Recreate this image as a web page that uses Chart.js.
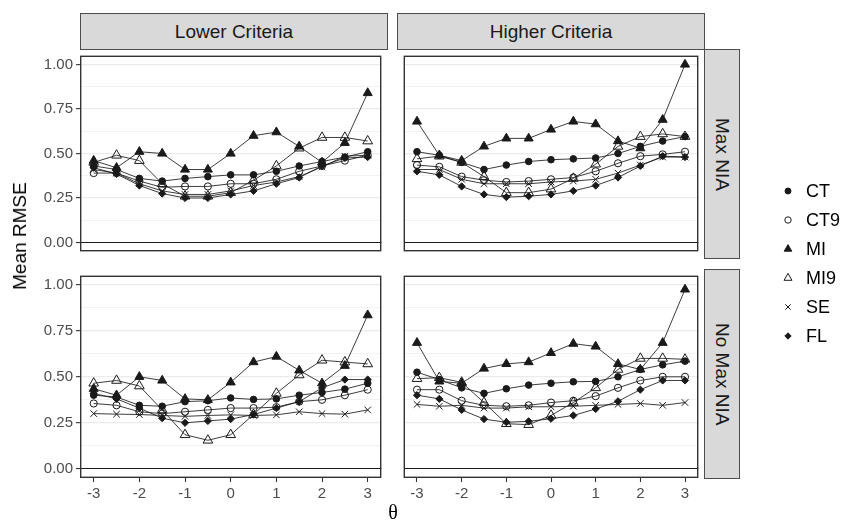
<!DOCTYPE html>
<html>
<head>
<meta charset="utf-8">
<script src="https://cdn.jsdelivr.net/npm/chart.js@4.4.1/dist/chart.umd.min.js"></script>
<style>
  html, body { margin:0; padding:0; background:#fff; }
  body { width:846px; height:524px; position:relative; overflow:hidden; font-family:"Liberation Sans", Arial, sans-serif; }
  canvas { position:absolute; }
  .strip { position:absolute; background:#D9D9D9; border:1px solid #4D4D4D; box-sizing:border-box; color:#1A1A1A; font-size:19px; display:flex; align-items:center; justify-content:center; }
  .vstrip { writing-mode:vertical-rl; }
  .ytitle { position:absolute; left:20px; top:236px; transform:translate(-50%,-50%) rotate(-90deg); font-size:19px; color:#000; white-space:nowrap; }
  .xtitle { position:absolute; left:393px; top:512px; transform:translate(-50%,-50%); font-size:20px; color:#000; font-family:"Liberation Serif", serif; }
  .leg { position:absolute; left:806px; font-size:18px; color:#000; transform:translateY(-50%); white-space:nowrap; }
</style>
</head>
<body>
<div class="strip" id="stripC0" style="left:80px;top:13px;width:308px;height:37px;"></div>
<div class="strip" id="stripC1" style="left:397px;top:13px;width:308px;height:37px;"></div>
<div class="strip vstrip" id="stripR0" style="left:704px;top:49px;width:36px;height:210px;"></div>
<div class="strip vstrip" id="stripR1" style="left:704px;top:269px;width:36px;height:210px;"></div>
<canvas id="pTL" width="388" height="209" style="left:0;top:49px;"></canvas>
<canvas id="pTR" width="308" height="209" style="left:397px;top:49px;"></canvas>
<canvas id="pBL" width="388" height="255" style="left:0;top:269px;"></canvas>
<canvas id="pBR" width="308" height="255" style="left:397px;top:269px;"></canvas>
<canvas id="legendKeys" width="40" height="200" style="left:768px;top:170px;"></canvas>
<div class="ytitle">Mean RMSE</div>
<div class="xtitle">θ</div>
<script>
// ---------- data ----------
const theta = [-3, -2.5, -2, -1.5, -1, -0.5, 0, 0.5, 1, 1.5, 2, 2.5, 3];
const xTicks = [-3, -2, -1, 0, 1, 2, 3];
const yTicks = [0, 0.125, 0.25, 0.375, 0.5, 0.625, 0.75, 0.875, 1];
const colFacets = ['Lower Criteria', 'Higher Criteria'];
const rowFacets = ['Max NIA', 'No Max NIA'];
const seriesNames = ['CT', 'CT9', 'MI', 'MI9', 'SE', 'FL'];

// Lower Criteria / Max NIA
const lowMaxCT  = [0.43, 0.41, 0.36, 0.345, 0.36, 0.37, 0.38, 0.38, 0.40, 0.43, 0.455, 0.48, 0.51];
const lowMaxCT9 = [0.39, 0.39, 0.345, 0.31, 0.315, 0.315, 0.33, 0.33, 0.355, 0.40, 0.43, 0.46, 0.49];
const lowMaxMI  = [0.46, 0.42, 0.51, 0.50, 0.41, 0.41, 0.50, 0.60, 0.62, 0.54, 0.45, 0.56, 0.84];
const lowMaxMI9 = [0.45, 0.49, 0.46, 0.33, 0.26, 0.26, 0.28, 0.35, 0.43, 0.53, 0.59, 0.59, 0.57];
const lowMaxSE  = [0.41, 0.39, 0.33, 0.29, 0.27, 0.27, 0.29, 0.32, 0.34, 0.37, 0.425, 0.485, 0.49];
const lowMaxFL  = [0.42, 0.385, 0.32, 0.275, 0.25, 0.25, 0.27, 0.29, 0.33, 0.365, 0.43, 0.475, 0.48];

// Higher Criteria / Max NIA
const highMaxCT  = [0.51, 0.49, 0.45, 0.41, 0.435, 0.455, 0.465, 0.47, 0.475, 0.50, 0.54, 0.57, 0.595];
const highMaxCT9 = [0.435, 0.425, 0.37, 0.35, 0.34, 0.345, 0.355, 0.365, 0.40, 0.445, 0.485, 0.495, 0.51];
const highMaxMI  = [0.68, 0.49, 0.46, 0.54, 0.585, 0.585, 0.635, 0.68, 0.665, 0.57, 0.53, 0.69, 1.00];
const highMaxMI9 = [0.47, 0.485, 0.45, 0.37, 0.28, 0.28, 0.30, 0.36, 0.44, 0.54, 0.595, 0.61, 0.595];
const highMaxSE  = [0.41, 0.41, 0.355, 0.33, 0.33, 0.33, 0.34, 0.345, 0.355, 0.39, 0.435, 0.48, 0.48];
const highMaxFL  = [0.40, 0.38, 0.315, 0.27, 0.255, 0.26, 0.27, 0.29, 0.32, 0.365, 0.43, 0.485, 0.48];

// Lower Criteria / No Max NIA
const lowNoCT  = [0.40, 0.39, 0.345, 0.34, 0.365, 0.37, 0.385, 0.377, 0.38, 0.40, 0.415, 0.433, 0.465];
const lowNoCT9 = [0.355, 0.345, 0.31, 0.30, 0.31, 0.32, 0.33, 0.33, 0.335, 0.365, 0.375, 0.40, 0.43];
const lowNoMI  = [0.435, 0.40, 0.50, 0.48, 0.38, 0.375, 0.47, 0.58, 0.61, 0.535, 0.465, 0.56, 0.835];
const lowNoMI9 = [0.465, 0.48, 0.45, 0.32, 0.185, 0.155, 0.185, 0.295, 0.41, 0.51, 0.59, 0.58, 0.57];
const lowNoSE  = [0.30, 0.297, 0.295, 0.29, 0.285, 0.29, 0.293, 0.29, 0.293, 0.31, 0.30, 0.297, 0.32];
const lowNoFL  = [0.41, 0.38, 0.33, 0.275, 0.25, 0.26, 0.27, 0.295, 0.33, 0.365, 0.44, 0.485, 0.485];

// Higher Criteria / No Max NIA
const highNoCT  = [0.525, 0.485, 0.44, 0.41, 0.435, 0.455, 0.465, 0.473, 0.475, 0.50, 0.54, 0.565, 0.585];
const highNoCT9 = [0.43, 0.43, 0.37, 0.345, 0.34, 0.345, 0.36, 0.37, 0.395, 0.44, 0.48, 0.50, 0.50];
const highNoMI  = [0.685, 0.475, 0.465, 0.545, 0.57, 0.58, 0.63, 0.68, 0.665, 0.57, 0.54, 0.685, 0.975];
const highNoMI9 = [0.49, 0.495, 0.47, 0.36, 0.245, 0.24, 0.29, 0.36, 0.44, 0.54, 0.60, 0.60, 0.595];
const highNoSE  = [0.35, 0.34, 0.345, 0.33, 0.33, 0.337, 0.337, 0.34, 0.345, 0.35, 0.355, 0.345, 0.36];
const highNoFL  = [0.40, 0.38, 0.32, 0.27, 0.253, 0.258, 0.272, 0.29, 0.325, 0.367, 0.43, 0.48, 0.48];

// ---------- styles ----------
const INK = '#1A1A1A';
const markerStyles = {
  CT:  { pointStyle: 'circle',   radius: 3.3, fill: INK, bw: 1 },
  CT9: { pointStyle: 'circle',   radius: 3.6, fill: 'rgba(0,0,0,0)', bw: 1 },
  MI:  { pointStyle: 'triangle', radius: 5.2, fill: INK, bw: 1 },
  MI9: { pointStyle: 'triangle', radius: 5.6, fill: 'rgba(0,0,0,0)', bw: 1 },
  SE:  { pointStyle: 'crossRot', radius: 4.6, fill: 'rgba(0,0,0,0)', bw: 1 },
  FL:  { pointStyle: 'rectRot',  radius: 3.6, fill: INK, bw: 1 }
};

document.getElementById('stripC0').textContent = colFacets[0];
document.getElementById('stripC1').textContent = colFacets[1];
document.getElementById('stripR0').textContent = rowFacets[0];
document.getElementById('stripR1').textContent = rowFacets[1];

function buildDatasets(arrs) {
  return seriesNames.map((name, i) => {
    const m = markerStyles[name];
    return {
      label: name,
      data: theta.map((t, j) => ({ x: t, y: arrs[i][j] })),
      borderColor: INK,
      borderWidth: 0.85,
      backgroundColor: m.fill,
      pointStyle: m.pointStyle,
      pointRadius: m.radius,
      pointBackgroundColor: m.fill,
      pointBorderColor: INK,
      pointBorderWidth: m.bw,
      tension: 0,
      fill: false
    };
  });
}

const frame = {
  id: 'frame',
  afterDraw(chart) {
    const a = chart.chartArea, c = chart.ctx;
    c.save();
    c.strokeStyle = '#333333';
    c.lineWidth = 1.4;
    c.strokeRect(a.left + 0.7, a.top + 0.7, a.right - a.left - 1.4, a.bottom - a.top - 1.4);
    c.restore();
  }
};

const PANEL_H = 209;

function makePanel(id, arrs, showY, showX) {
  const canvas = document.getElementById(id);
  const isMajor = v => Math.abs(v * 4 - Math.round(v * 4)) < 1e-6;
  return new Chart(canvas, {
    type: 'line',
    data: { datasets: buildDatasets(arrs) },
    plugins: [frame],
    options: {
      responsive: false,
      animation: false,
      devicePixelRatio: 1,
      layout: { padding: 0 },
      plugins: { legend: { display: false }, tooltip: { enabled: false } },
      elements: { line: { tension: 0 } },
      scales: {
        x: {
          type: 'linear', position: 'bottom', min: -3.3, max: 3.3,
          display: showX,
          afterBuildTicks: s => { s.ticks = xTicks.map(v => ({ value: v })); },
          afterFit: s => { s.height = canvas.height - PANEL_H; s.paddingLeft = 0; s.paddingRight = 0; },
          grid: { drawOnChartArea: false, drawTicks: true, tickLength: 4, tickColor: '#333333', tickWidth: 1.1 },
          border: { display: false },
          ticks: { padding: 3, color: '#4D4D4D', font: { family: 'Liberation Sans', size: 15 }, maxRotation: 0,
                   callback: v => String(v) }
        },
        y: {
          type: 'linear', position: 'left', min: -0.05, max: 1.05,
          afterBuildTicks: s => { s.ticks = yTicks.map(v => ({ value: v })); },
          afterFit: s => { s.width = showY ? 80 : 0; s.paddingTop = 0; s.paddingBottom = 0; },
          grid: {
            drawOnChartArea: true,
            drawTicks: showY,
            tickLength: 4,
            color: c => (c.tick && Math.abs(c.tick.value) < 1e-9) ? '#1A1A1A' : (c.tick && isMajor(c.tick.value) ? '#EBEBEB' : '#F2F2F2'),
            lineWidth: c => (c.tick && Math.abs(c.tick.value) < 1e-9) ? 1.1 : (c.tick && isMajor(c.tick.value) ? 1.3 : 1),
            tickColor: c => (c.tick && isMajor(c.tick.value)) ? '#333333' : 'rgba(0,0,0,0)',
            tickWidth: 1.1
          },
          border: { display: false },
          ticks: {
            display: showY, padding: 3, color: '#4D4D4D',
            font: { family: 'Liberation Sans', size: 15 },
            callback: v => isMajor(v) ? v.toFixed(2) : ''
          }
        }
      }
    }
  });
}

makePanel('pTL', [lowMaxCT, lowMaxCT9, lowMaxMI, lowMaxMI9, lowMaxSE, lowMaxFL], true, false);
makePanel('pTR', [highMaxCT, highMaxCT9, highMaxMI, highMaxMI9, highMaxSE, highMaxFL], false, false);
makePanel('pBL', [lowNoCT, lowNoCT9, lowNoMI, lowNoMI9, lowNoSE, lowNoFL], true, true);
makePanel('pBR', [highNoCT, highNoCT9, highNoMI, highNoMI9, highNoSE, highNoFL], false, true);

// ---------- legend ----------
const legendY = [191, 220, 249, 278, 307, 336];
const lk = document.getElementById('legendKeys');
const lctx = lk.getContext('2d');
const legendScale = { CT: 3, CT9: 3.2, MI: 4.4, MI9: 4.6, SE: 3.8, FL: 3.2 };
seriesNames.forEach((name, i) => {
  const m = markerStyles[name];
  lctx.save();
  lctx.fillStyle = m.fill;
  lctx.strokeStyle = INK;
  lctx.lineWidth = 1;
  Chart.helpers.drawPoint(lctx, { pointStyle: m.pointStyle, radius: legendScale[name], borderWidth: 1, rotation: 0 }, 20, legendY[i] - 170);
  lctx.restore();
  const d = document.createElement('div');
  d.className = 'leg';
  d.style.top = legendY[i] + 'px';
  d.textContent = name;
  document.body.appendChild(d);
});
</script>
</body>
</html>
